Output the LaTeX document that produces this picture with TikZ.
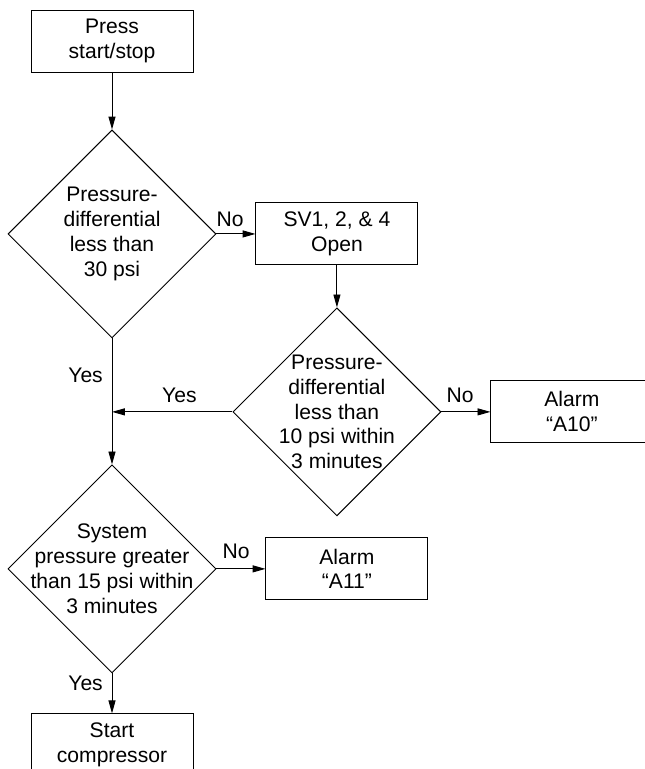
\documentclass[tikz,border=0pt]{standalone}
\usepackage{fontspec}
\setmainfont{Liberation Sans}
\usetikzlibrary{arrows.meta, positioning, shapes.geometric}

\begin{document}
\begin{tikzpicture}[
  font=\fontsize{18}{21.3}\selectfont,
  stepbox/.style={draw, line width=0.8pt, minimum width=4.86cm,
                  minimum height=1.86cm, inner sep=2pt, align=center},
  decision/.style={draw, diamond, aspect=1, line width=0.8pt,
                   minimum width=6.24cm, minimum height=6.24cm, inner sep=0pt},
  qtext/.style={align=center, inner sep=0pt},
  lbl/.style={inner sep=0pt},
  flow/.style={-{Triangle[length=11pt, width=6pt]}, line width=0.8pt},
]
  \useasboundingbox (0,0) rectangle (19.35,-23.07);

  % Nodes
  \node[stepbox] (start) at (3.36,-1.23) {Press\\start/stop};
  \node[decision, below=1.71cm of start] (dpdiff) {};
  \node[stepbox, right=1.17cm of dpdiff] (svopen) {SV1, 2, \& 4\\Open};
  \node[decision, below=1.26cm of svopen] (dpwait) {};
  \node[stepbox, right=1.47cm of dpwait] (alarmten) {Alarm\\``A10''};
  \node[decision, below=3.78cm of dpdiff] (syspres) {};
  \node[stepbox, right=1.47cm of syspres] (alarmeleven) {Alarm\\``A11''};
  \node[stepbox, below=1.2cm of syspres] (compressor) {Start\\compressor};
  \coordinate (join) at (dpdiff |- dpwait);

  % Texts in the diamonds
  \node[qtext] (dpdifftxt) at (dpdiff) {Pressure-\\differential\\less than\\30 psi};
  \node[qtext] (dpwaittxt) at (dpwait) {Pressure-\\differential\\less than\\10 psi within\\3 minutes};
  \node[qtext] (syspretxt) at (syspres) {System\\pressure greater\\than 15 psi within\\3 minutes};

  % Edges
  \draw[flow] (start) -- (dpdiff);
  \draw[flow] (dpdiff) -- (svopen);
  \draw[flow] (svopen) -- (dpwait);
  \draw[flow] (dpwait) -- (alarmten);
  \draw[flow] (dpwait.west) -- (join);
  \draw[flow] (dpdiff.south) -- (syspres.north);
  \draw[flow] (syspres) -- (alarmeleven);
  \draw[flow] (syspres) -- (compressor);

  % Labels
  \node[lbl, above right=0.21cm and 0cm of dpdiff.east] (nofirst) {No};
  \node[lbl, below left=0.87cm and 0.27cm of dpdiff.south] (yesfirst) {Yes};
  \node[lbl, above right=0.27cm and 0.15cm of dpwait.east] (nosecond) {No};
  \node[lbl, above right=0.27cm and 1.5cm of join] (yessecond) {Yes};
  \node[lbl, above right=0.3cm and 0.18cm of syspres.east] (nothird) {No};
  \node[lbl, below left=0.06cm and 0.27cm of syspres.south] (yesthird) {Yes};
\end{tikzpicture}
\end{document}
